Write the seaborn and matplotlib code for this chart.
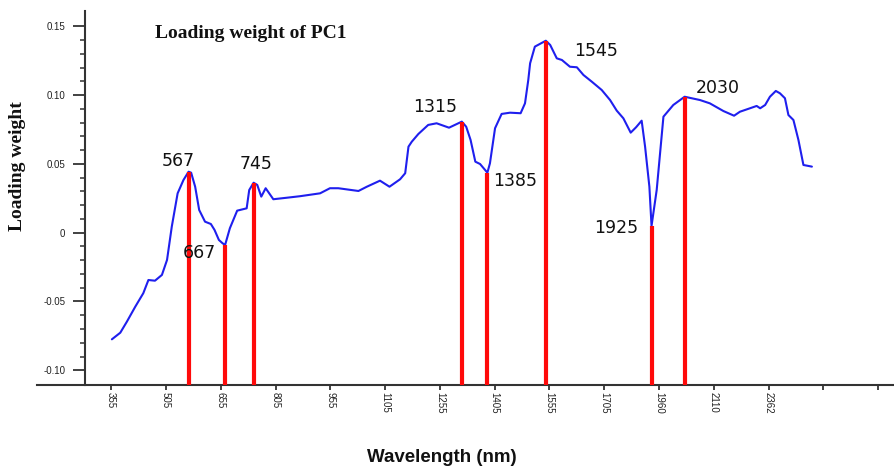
import numpy as np
import pandas as pd
import matplotlib
matplotlib.use("Agg")
import matplotlib.pyplot as plt
import seaborn as sns

# PC1 loading curve (nm, loading)
wavelength = [357, 380, 398, 421, 443, 457, 475, 494, 508, 521, 537, 553, 567, 574, 585,
              596, 612, 628, 638, 650, 660, 667, 680, 700, 726, 733, 745, 755, 766, 778,
              799, 836, 872, 927, 954, 977, 1032, 1055, 1091, 1117, 1146, 1160, 1169, 1178,
              1196, 1223, 1246, 1280, 1315, 1327, 1339, 1352, 1365, 1385, 1392, 1406, 1424,
              1447, 1476, 1488, 1497, 1502, 1515, 1545, 1557, 1575, 1589, 1611, 1630, 1648,
              1671, 1698, 1732, 1763, 1794, 1828, 1853, 1879, 1895, 1915, 1925, 1949, 1972,
              1999, 2030, 2072, 2099, 2154, 2203, 2230, 2276, 2307, 2323, 2346, 2368, 2395,
              2414, 2437, 2453, 2476, 2499, 2522, 2561]
loading = [-0.0775, -0.0727, -0.0647, -0.0538, -0.0440, -0.0344, -0.0349, -0.0307, -0.0198,
           0.0044, 0.0286, 0.0383, 0.0443, 0.0436, 0.0334, 0.0165, 0.0080, 0.0063, 0.0020,
           -0.0053, -0.0077, -0.0089, 0.0032, 0.0160, 0.0177, 0.0310, 0.0363, 0.0347, 0.0262,
           0.0323, 0.0243, 0.0254, 0.0265, 0.0286, 0.0323, 0.0323, 0.0303, 0.0334, 0.0378,
           0.0334, 0.0388, 0.0432, 0.0625, 0.0661, 0.0717, 0.0783, 0.0795, 0.0763, 0.0807,
           0.0770, 0.0674, 0.0516, 0.0499, 0.0436, 0.0504, 0.0759, 0.0863, 0.0872, 0.0868,
           0.0940, 0.1110, 0.1231, 0.1352, 0.1395, 0.1364, 0.1267, 0.1255, 0.1206, 0.1202,
           0.1146, 0.1097, 0.1037, 0.0964, 0.0887, 0.0831, 0.0727, 0.0766, 0.0814, 0.0625,
           0.0334, 0.0049, 0.0310, 0.0843, 0.0928, 0.0988, 0.0964, 0.0940, 0.0884, 0.0850,
           0.0879, 0.0904, 0.0921, 0.0904, 0.0928, 0.0988, 0.1030, 0.1013, 0.0977, 0.0855,
           0.0819, 0.0674, 0.0492, 0.0480]

# selected wavelengths marked with red lines
peaks_nm = [567, 667, 745, 1315, 1385, 1545, 1925, 2030]

# x axis of the original is not linear in nm: equally spaced ticks with these labels
tick_nm = [355, 505, 655, 805, 955, 1105, 1255, 1405, 1555, 1705, 1960, 2110, 2362]
extra_ticks_nm = [2614, 2866]

y_ticks = [-0.10, -0.05, 0.0, 0.05, 0.10, 0.15]
y_ticklabels = ["-0.10", "-0.05", "0", "0.05", "0.10", "0.15"]

# label offsets (pixels) from top of each red line
label_offsets = [(-10, 11), (-26, -8), (2, 19), (-27, 15), (28, -8), (50, -10), (-35, -2), (33, 9)]

tick_idx = np.arange(len(tick_nm), dtype=float)
step_lo = tick_nm[1] - tick_nm[0]
step_hi = tick_nm[-1] - tick_nm[-2]


def to_pos(w):
    w = np.asarray(w, dtype=float)
    mid = np.interp(w, tick_nm, tick_idx)
    left = (w - tick_nm[0]) / step_lo
    right = tick_idx[-1] + (w - tick_nm[-1]) / step_hi
    return np.where(w < tick_nm[0], left, np.where(w > tick_nm[-1], right, mid))


def to_nm(p):
    p = np.asarray(p, dtype=float)
    mid = np.interp(p, tick_idx, tick_nm)
    left = tick_nm[0] + p * step_lo
    right = tick_nm[-1] + (p - tick_idx[-1]) * step_hi
    return np.where(p < 0, left, np.where(p > tick_idx[-1], right, mid))


sns.set_theme(style="white")
plt.rcParams['font.family'] = ['Liberation Sans', 'DejaVu Sans']

W, H = 894, 467
fig = plt.figure(figsize=(W / 100, H / 100), dpi=100)
ax = fig.add_axes([37 / W, (H - 385) / H, (893 - 37) / W, (385 - 11) / H])
ax.set_xscale('function', functions=(to_pos, to_nm))

ymin, ymax = -0.1107, 0.1611
ax.set_xlim(152, 2934)
ax.set_ylim(ymin, ymax)

df = pd.DataFrame({'Wavelength': wavelength, 'Loading': loading})
sns.lineplot(data=df, x='Wavelength', y='Loading', ax=ax, color='#1f1fee',
             linewidth=1.5, sort=False, estimator=None, zorder=2)

tops = np.interp(peaks_nm, wavelength, loading)
ax.vlines(peaks_nm, ymin, tops, colors='#ff0a0a', linewidth=3.0, zorder=3)

for nm, top, (dx, dy) in zip(peaks_nm, tops, label_offsets):
    ax.annotate(str(nm), (nm, top), xytext=(dx, dy), textcoords='offset pixels',
                ha='center', va='center', fontsize=12.5, color='#111111',
                family=['DejaVu Sans'])

# axes styling
for s in ['top', 'right']:
    ax.spines[s].set_visible(False)
ax.spines['left'].set_position(('data', 284))
for s in ['left', 'bottom']:
    ax.spines[s].set_color('#333333')
    ax.spines[s].set_linewidth(1.5)

ax.set_xticks(tick_nm + extra_ticks_nm)
ax.set_xticklabels([str(t) for t in tick_nm] + ['', ''], rotation=270,
                   fontsize=7, color='#222222')
ax.set_xticks([], minor=True)
ax.tick_params(axis='x', which='major', direction='out', length=3.5, width=1.3,
               color='#333333', pad=1.5, bottom=True)

ax.set_yticks(y_ticks)
ax.set_yticklabels(y_ticklabels, fontsize=7, color='#222222')
ax.set_yticks(np.arange(-0.10, 0.1501, 0.01), minor=True)
ax.tick_params(axis='y', which='major', direction='out', length=8.5, width=1.3,
               color='#333333', pad=6, left=True)
ax.tick_params(axis='y', which='minor', direction='out', length=3.6, width=1.1,
               color='#333333', left=True)
ax.set_xlabel('')
ax.set_ylabel('')
ax.grid(False)

fig.text(155 / W, 1 - 33 / H, 'Loading weight of PC1', ha='left', va='center',
         family=['Liberation Serif'], weight='bold', fontsize=14, color='#111111')
fig.text(18 / W, 1 - 166 / H, 'Loading weight', rotation=90, ha='center', va='center',
         family=['Liberation Serif'], weight='bold', fontsize=14, color='#111111')
fig.text(442 / W, 1 - 457 / H, 'Wavelength (nm)', ha='center', va='center',
         family=['Liberation Sans'], weight='bold', fontsize=13.5, color='#111111')

fig.savefig('out.png', dpi=100)
